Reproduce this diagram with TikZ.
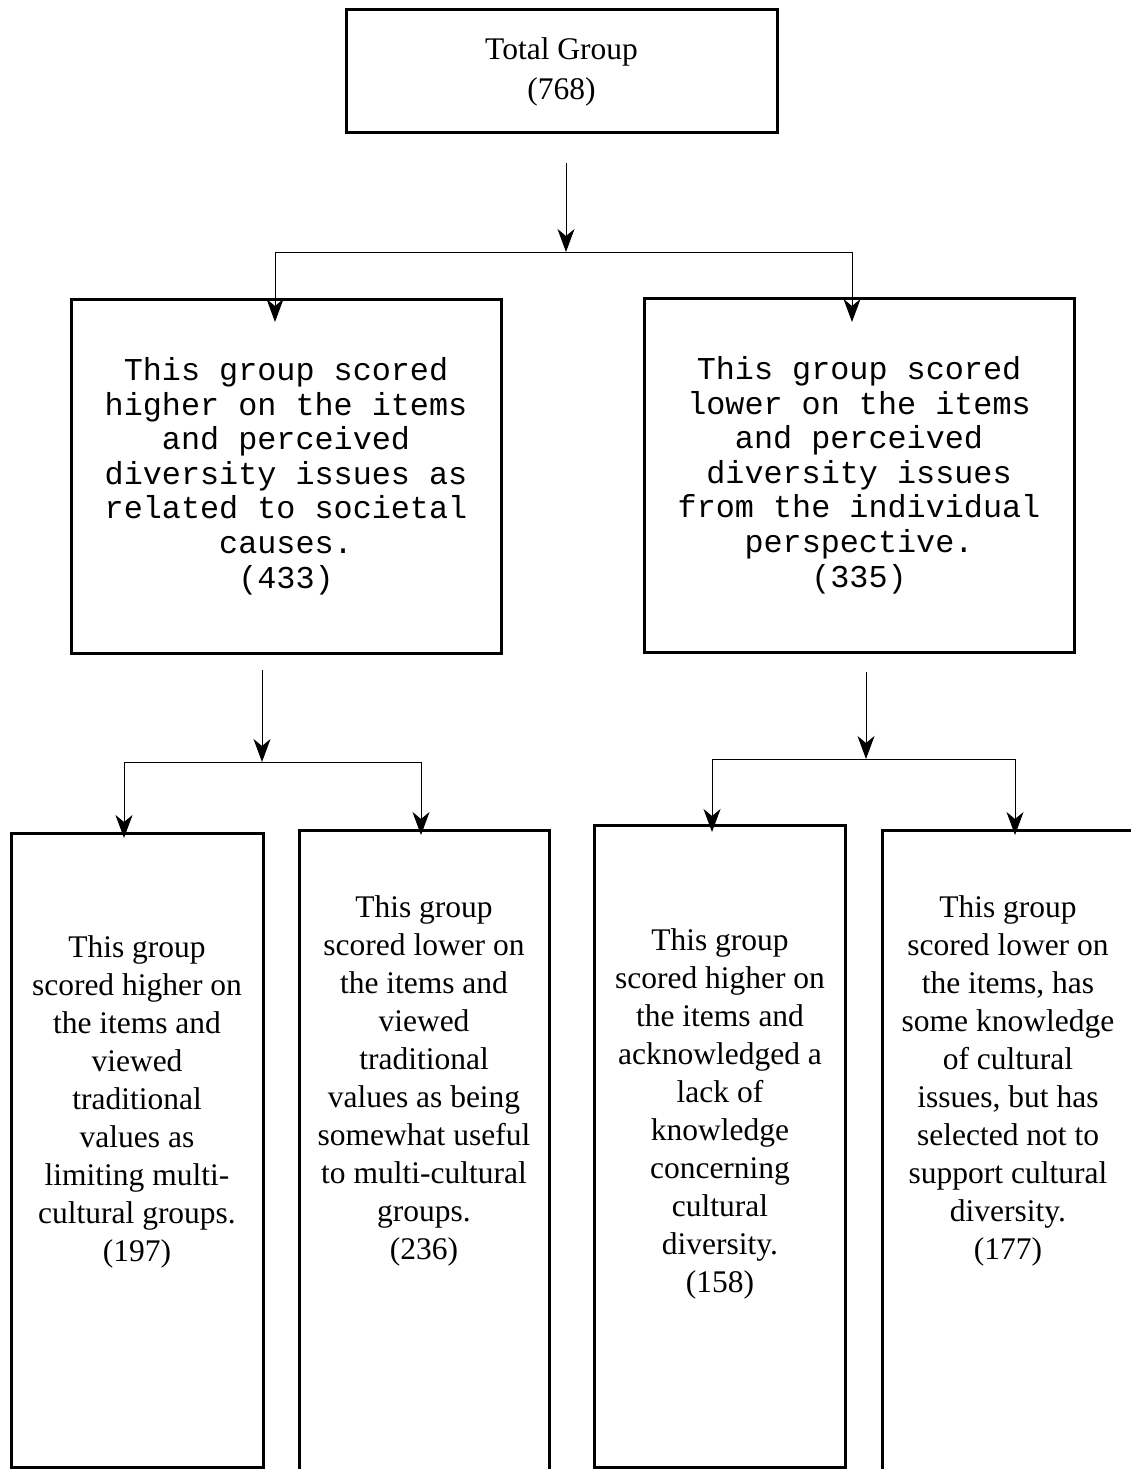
\documentclass[tikz,border=0pt]{standalone}
\usepackage{fontspec}
\setmainfont{Liberation Serif}
\newfontfamily\typewriter{Liberation Mono}
\usetikzlibrary{arrows.meta,positioning}

\begin{document}
\begin{tikzpicture}[x=1pt,y=-1pt,
  box/.style={draw,line width=3pt,inner sep=0pt},
  conn/.style={line width=1pt},
  tip/.style={conn,-{Stealth[length=23pt,width=17pt,inset=7pt]}},
  serif/.style={align=center,font=\fontsize{31.5}{38}\selectfont},
  mono/.style={align=center,font=\typewriter\fontsize{31.8}{34.6}\selectfont}]
\useasboundingbox (0,0) rectangle (1130,1469);
% Level 0

\node (top) at (561.5,71.5)[box,minimum width=431pt,minimum height=123pt,serif,font=\fontsize{31.5}{40}\selectfont] {Total Group\\(768)};
\coordinate (s0) at (566,163);
\coordinate (j0) at (566,252);
\coordinate (dL) at (275,322);
\coordinate (dR) at (852,322);
\draw [tip] (s0) -- (j0);
\draw [tip] (j0) -| (dL);
\draw [tip] (j0) -| (dR);

% Level 1
\node (L) at (286,476)[box,minimum width=430pt,minimum height=354pt,mono] {This group scored\\higher on the items\\and perceived\\diversity issues as\\related to societal\\causes.\\(433)};
\node (R) at (859,475)[box,minimum width=430pt,minimum height=354pt,mono] {This group scored\\lower on the items\\and perceived\\diversity issues\\from the individual\\perspective.\\(335)};
\coordinate (s1) at (262,670);
\coordinate (j1) at (262,762);
\coordinate (d1) at (124,838);
\coordinate (d2) at (421,835);
\draw [tip] (s1) -- (j1);
\draw [tip] (j1) -| (d1);
\draw [tip] (j1) -| (d2);
\coordinate (s2) at (866,672);
\coordinate (j2) at (866,759);
\coordinate (d3) at (712,832);
\coordinate (d4) at (1015,835);
\draw [tip] (s2) -- (j2);
\draw [tip] (j2) -| (d3);
\draw [tip] (j2) -| (d4);

% Level 2
\node (B1) at (137,1150)[box,minimum width=252pt,minimum height=634pt] {};
\node (B2) at (424,1160)[box,minimum width=250pt,minimum height=660pt] {};
\node (B3) at (719.5,1146)[box,minimum width=251pt,minimum height=642pt] {};
\node (B4) at (1011,1160)[box,minimum width=258pt,minimum height=660pt] {};
\node (T1) at (137,1102)[serif] {This group\\scored higher on\\the items and\\viewed\\traditional\\values as\\limiting multi-\\cultural groups.\\(197)};
\node (T2) at (424,1081)[serif] {This group\\scored lower on\\the items and\\viewed\\traditional\\values as being\\somewhat useful\\to multi-cultural\\groups.\\(236)};
\node (T3) at (720,1114)[serif] {This group\\scored higher on\\the items and\\acknowledged a\\lack of\\knowledge\\concerning\\cultural\\diversity.\\(158)};
\node (T4) at (1008,1081)[serif] {This group\\scored lower on\\the items, has\\some knowledge\\of cultural\\issues, but has\\selected not to\\support cultural\\diversity.\\(177)};

\end{tikzpicture}
\end{document}
